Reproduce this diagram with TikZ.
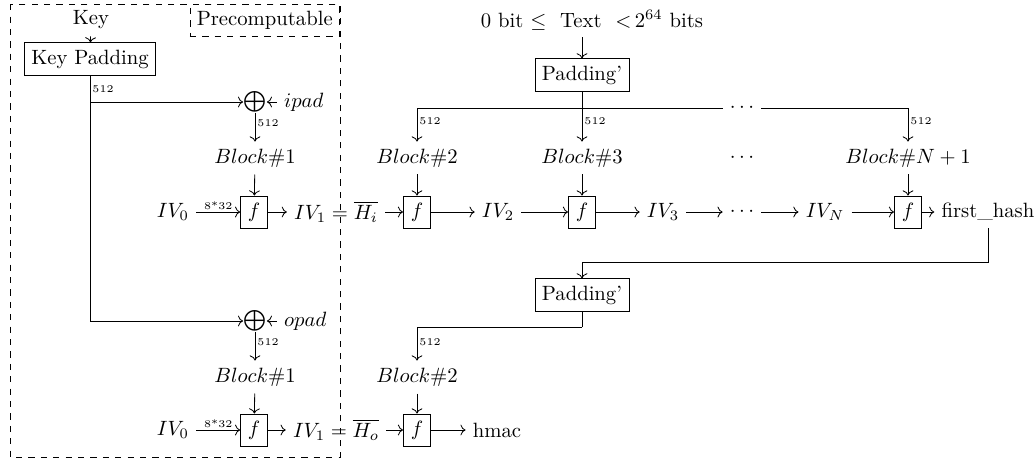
\documentclass[tikz,border=0pt]{standalone}
\usepackage{tikz}
\usetikzlibrary{arrows.meta, positioning}
\tikzset{
    padbox/.style={rectangle,draw},
    fbox/.style={rectangle,draw,minimum width=0.46cm,minimum height=0.54cm},
    lbl/.style={font=\tiny,inner sep=1pt},
    xorop/.style={inner sep=0pt}
}

\begin{document}
\begin{tikzpicture}
    \useasboundingbox (0,0) rectangle (17.595,-7.803);
    \draw[dashed] (0.17,-0.07) rectangle (5.78,-7.77);
    \node (pre) [draw,dashed,anchor=north east] at (5.78,-0.07) {Precomputable};

    \node (key) at (1.547,-0.34) {Key};
    \node (keypad) [padbox] at (1.53,-1.003) {Key Padding};
    \node (xor1) [xorop] at (4.335,-1.734) {$\bigoplus$};
    \node (ipad) [right=0.17cm of xor1] {$ipad$};
    \node (blk1) at (4.335,-2.686) {$Block\#1$};
    \node (f1) [fbox] at (4.32,-3.604) {$f$};
    \node (iv0) at (2.941,-3.604) {$IV_0$};
    \node (hi) at (5.712,-3.604) {$IV_1 = \overline{H_i}$};

    \node (txt) at (10.064,-0.34) {0 bit $\leq$\ \ Text\ \ ${<}\,2^{64}$ bits};
    \node (pad1) [padbox] at (9.894,-1.275) {Padding'};
    \node (tdots) at (12.614,-1.836) {$\cdots$};
    \node (blk2) at (7.089,-2.686) {$Block\#2$};
    \node (blk3) at (9.894,-2.686) {$Block\#3$};
    \node (bdots) at (12.614,-2.686) {$\cdots$};
    \node (blkn) at (15.436,-2.686) {$Block\#N+1$};
    \node (f2) [fbox] at (7.089,-3.604) {$f$};
    \node (iv2) at (8.466,-3.604) {$IV_2$};
    \node (f3) [fbox] at (9.894,-3.604) {$f$};
    \node (iv3) at (11.271,-3.604) {$IV_3$};
    \node (rdots) at (12.614,-3.604) {$\cdots$};
    \node (ivn) at (14.025,-3.604) {$IV_N$};
    \node (fn) [fbox] at (15.436,-3.604) {$f$};
    \node (hash) at (16.796,-3.604) {first\_hash};

    \node (pad2) [padbox] at (9.894,-5.015) {Padding'};
    \node (xor2) [xorop] at (4.335,-5.457) {$\bigoplus$};
    \node (opad) [right=0.17cm of xor2] {$opad$};
    \node (blk1b) at (4.335,-6.409) {$Block\#1$};
    \node (blk2b) at (7.089,-6.409) {$Block\#2$};
    \node (f1b) [fbox] at (4.32,-7.31) {$f$};
    \node (iv0b) at (2.941,-7.31) {$IV_0$};
    \node (ho) at (5.712,-7.31) {$IV_1 = \overline{H_o}$};
    \node (f2b) [fbox] at (7.089,-7.31) {$f$};
    \node (hmac) at (8.449,-7.31) {hmac};

    \coordinate (kbr) at (keypad |- xor1);
    \coordinate (hturn) at (hash |- 0,-4.454);
    \coordinate (pturn) at (pad2 |- 0,-5.559);

    \draw[->] (key) -- (keypad);
    \draw (keypad) -- node[lbl,right] {512} (kbr);
    \draw[->] (kbr) -- (xor1);
    \draw[->] (kbr) |- (xor2);
    \draw[->] (ipad) -- (xor1);
    \draw[->] (opad) -- (xor2);
    \draw[->] (xor1) -- node[lbl,right,pos=0.35] {512} (blk1);
    \draw[->] (xor2) -- node[lbl,right,pos=0.35] {512} (blk1b);
    \draw[->] (blk1) -- (f1);
    \draw[->] (blk1b) -- (f1b);
    \draw[->] (iv0) -- node[lbl,above] {8*32} (f1);
    \draw[->] (iv0b) -- node[lbl,above] {8*32} (f1b);
    \draw[->] (f1) -- (hi);
    \draw[->] (f1b) -- (ho);

    \draw[->] (txt.south -| pad1) -- (pad1);
    \draw[->] (pad1) -- node[lbl,right,pos=0.6] {512} (blk3);
    \draw[->] (tdots.west) -| node[lbl,right,pos=0.7] {512} (blk2);
    \draw[->] (tdots.east) -| node[lbl,right,pos=0.7] {512} (blkn);
    \draw[->] (blk2) -- (f2);
    \draw[->] (blk3) -- (f3);
    \draw[->] (blkn) -- (fn);
    \draw[->] (hi) -- (f2);
    \draw[->] (f2) -- (iv2);
    \draw[->] (iv2) -- (f3);
    \draw[->] (f3) -- (iv3);
    \draw[->] (iv3) -- (rdots);
    \draw[->] (rdots) -- (ivn);
    \draw[->] (ivn) -- (fn);
    \draw[->] (fn) -- (hash);

    \draw[->] (hash) -- (hturn) -| (pad2);
    \draw (pad2) -- (pturn);
    \draw[->] (pturn) -| node[lbl,right,pos=0.72] {512} (blk2b);
    \draw[->] (blk2b) -- (f2b);
    \draw[->] (ho) -- (f2b);
    \draw[->] (f2b) -- (hmac);
\end{tikzpicture}
\end{document}
